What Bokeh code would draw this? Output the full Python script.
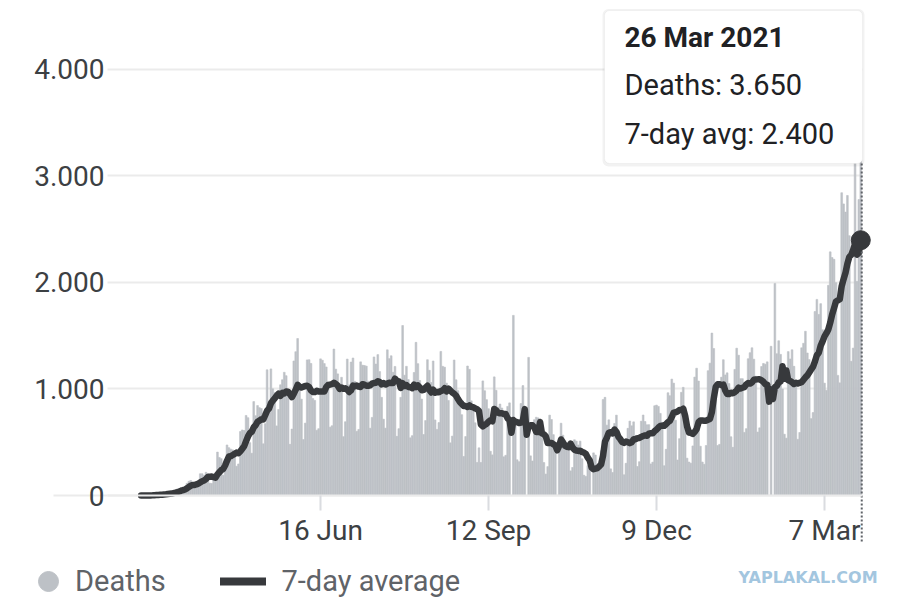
from datetime import date, timedelta
import numpy as np
import pandas as pd
from bokeh.plotting import figure
from bokeh.models import (ColumnDataSource, Range1d, FixedTicker, Legend, LegendItem,
                          Label, BoxAnnotation)
from bokeh.embed import file_html
from bokeh.resources import INLINE

# ---------------- data ----------------
start_date = date(2020, 3, 14)   # first day (Saturday)
# daily deaths, one week (Sat..Fri) per row
deaths = [
    0, 0, 0, 1, 3, 3, 4,
    7, 7, 9, 12, 11, 20, 15,
    22, 22, 23, 42, 40, 58, 60,
    73, 54, 67, 114, 133, 141, 115,
    68, 99, 105, 204, 204, 188, 217,
    206, 115, 113, 166, 165, 407, 357,
    346, 189, 338, 474, 449, 435, 428,
    421, 275, 296, 600, 615, 610, 751,
    730, 496, 396, 881, 749, 844, 824,
    816, 485, 674, 1179, 888, 1188, 1001,
    965, 653, 807, 1039, 1086, 1156, 1124,
    956, 480, 623, 1262, 1349, 1473, 1005,
    904, 525, 679, 1272, 1274, 1239, 909,
    892, 612, 627, 1282, 1269, 1238, 1206,
    1022, 641, 654, 1374, 1185, 1141, 990,
    1109, 552, 692, 1280, 1038, 1252, 1290,
    1071, 602, 620, 1254, 1223, 1220, 1214,
    1071, 631, 733, 1300, 1233, 1322, 1163,
    921, 716, 632, 1367, 1284, 1311, 1156,
    1211, 555, 627, 921, 1595, 1129, 1212,
    1088, 541, 561, 1154, 1437, 1237, 1079,
    905, 572, 703, 1274, 1175, 1060, 1262,
    709, 620, 684, 1352, 1212, 1204, 1054,
    892, 494, 557, 1271, 1085, 984, 855,
    758, 366, 553, 1215, 1184, 888, 833,
    682, 310, 447, 310, 1075, 983, 899,
    814, 415, 381, 1113, 987, 829, 858,
    821, 363, 377, 836, 869, 0, 1690,
    708, 335, 317, 863, 1031, 729, 0,
    1296, 372, 324, 711, 734, 728, 663,
    543, 309, 201, 271, 754, 713, 571,
    461, 0, 504, 678, 566, 497, 496,
    432, 231, 263, 523, 510, 474, 510,
    344, 190, 179, 280, 333, 0, 400,
    380, 230, 290, 420, 900, 921, 660,
    710, 250, 216, 676, 754, 598, 500,
    518, 194, 302, 630, 698, 654, 691,
    521, 272, 317, 697, 755, 694, 663,
    665, 296, 313, 842, 848, 836, 770,
    686, 279, 433, 964, 936, 1092, 1054,
    706, 333, 533, 968, 1015, 626, 350,
    314, 303, 465, 1111, 1194, 1074, 462,
    314, 293, 469, 1171, 1242, 1524, 1379,
    1050, 469, 480, 1110, 1274, 1131, 1151,
    1050, 551, 452, 1183, 1382, 1316, 1096,
    1096, 592, 627, 1283, 1340, 1386, 1279,
    1119, 595, 635, 1210, 1239, 1232, 1254,
    0, 1400, 0, 1990, 1330, 1452, 1324,
    1000, 575, 538, 1350, 1281, 1367, 1212,
    1077, 527, 591, 1386, 1428, 1541, 1337,
    1275, 721, 778, 1726, 1840, 1699, 1800,
    1555, 1054, 987, 1972, 2286, 2233, 2216,
    1997, 1127, 1057, 2841, 2736, 2659, 2815,
    2438, 1259, 1383, 3251, 2009, 2777, 3650,
]

tick_dates = [date(2020, 6, 16), date(2020, 9, 12), date(2020, 12, 9), date(2021, 3, 7)]
tick_labels = ["16 Jun", "12 Sep", "9 Dec", "7 Mar"]
y_ticks = [0, 1000, 2000, 3000, 4000]
y_tick_labels = ["0", "1.000", "2.000", "3.000", "4.000"]
series_names = ["Deaths", "7-day average"]

# ---------------- derived ----------------
n = len(deaths)
idx = np.arange(n)
dates = [start_date + timedelta(days=int(i)) for i in idx]
avg = pd.Series(deaths, dtype=float).rolling(7, min_periods=1).mean().to_numpy()
src = ColumnDataSource(dict(idx=idx, deaths=deaths, avg=avg))
tick_idx = [(d - start_date).days for d in tick_dates]
last = n - 1

# ---------------- layout geometry (page pixels) ----------------
W, H = 884, 600
PLOT_L, PLOT_R, ZERO_Y = 107, 862, 495      # plotting area: left/right edge, baseline
X_LEFT = -17.6                               # day index at the left edge of the plotting area
X_RIGHT = n - 0.1                            # day index at the right edge
PXD = (PLOT_R - PLOT_L) / (X_RIGHT - X_LEFT) # px per day
PXV = 426.3 / 4000                           # px per death

def xd(px):
    return X_LEFT + (px - PLOT_L) / PXD

def yd(py):
    return (ZERO_Y - py) / PXV

BAR = "#bdc1c6"
LINE = "#37393c"
TXT = "#3c4043"
GRID = "#ebebeb"
FONT = "Roboto"

p = figure(width=W, height=H, x_range=Range1d(xd(0), xd(W)), y_range=Range1d(yd(H), yd(0)),
           output_backend="svg", toolbar_location=None,
           min_border_left=0, min_border_right=0, min_border_top=0, min_border_bottom=0)
p.outline_line_color = None
p.background_fill_color = "white"
p.border_fill_color = "white"

p.xgrid.visible = False
if "cross_bounds" in p.ygrid.properties():
    p.ygrid.grid_line_color = GRID
    p.ygrid.grid_line_width = 2
    p.ygrid.cross_bounds = (X_LEFT, X_RIGHT)
else:
    p.ygrid.visible = False
    p.segment(x0=[X_LEFT] * len(y_ticks), y0=y_ticks, x1=[X_RIGHT] * len(y_ticks), y1=y_ticks,
              line_color=GRID, line_width=2)
# the baseline grid line reaches further left, up to its short "0" label
p.segment(x0=[xd(53)], y0=[y_ticks[0]], x1=[X_LEFT], y1=[y_ticks[0]], line_color=GRID, line_width=2)

p.vbar(x="idx", top="deaths", width=0.9, source=src, fill_color=BAR,
       line_color=BAR, line_width=0.6)
p.line(x="idx", y="avg", source=src, line_width=6.5, line_color=LINE, line_join="round", line_cap="round")

# y axis (fixed at the left edge of the plotting area)
p.yaxis.fixed_location = X_LEFT
p.yaxis.ticker = FixedTicker(ticks=y_ticks)
p.yaxis.major_label_overrides = dict(zip(y_ticks, y_tick_labels))
p.yaxis.axis_line_color = None
p.yaxis.major_tick_line_color = None
p.yaxis.major_tick_out = 0
p.yaxis.major_tick_in = 0
p.yaxis.minor_tick_line_color = None
p.yaxis.major_label_text_font = FONT
p.yaxis.major_label_text_font_size = "28px"
p.yaxis.major_label_text_color = TXT
p.yaxis.major_label_standoff = 3

# x axis (fixed at zero)
p.xaxis.fixed_location = 0
p.xaxis.bounds = (X_LEFT, X_RIGHT)
p.xaxis.ticker = FixedTicker(ticks=tick_idx)
p.xaxis.major_label_overrides = dict(zip(tick_idx, tick_labels))
p.xaxis.axis_line_color = GRID
p.xaxis.axis_line_width = 2
p.xaxis.major_tick_line_color = "#dadce0"
p.xaxis.major_tick_line_width = 2
p.xaxis.major_tick_out = 15
p.xaxis.major_tick_in = 0
p.xaxis.minor_tick_line_color = None
p.xaxis.major_label_text_font = FONT
p.xaxis.major_label_text_font_size = "28px"
p.xaxis.major_label_text_color = TXT
p.xaxis.major_label_standoff = 3

# hover-like marker at last point
p.segment(x0=[last + 0.5], y0=[yd(163)], x1=[last + 0.5], y1=[yd(542)],
          line_color="#5f6368", line_width=2, line_dash="2 2")
p.scatter(x=[idx[last]], y=[avg[last]], size=19, fill_color=LINE, line_color=LINE)

# tooltip box
p.add_layout(BoxAnnotation(left=xd(602), right=xd(864), bottom=yd(166), top=yd(8.5),
                           fill_color="black", fill_alpha=0.05, line_color=None, border_radius=6))
p.add_layout(BoxAnnotation(left=xd(604), right=xd(862), bottom=yd(163), top=yd(10),
                           fill_color="white", fill_alpha=1.0, line_color="#dcdcdc", line_width=1,
                           border_radius=5))
d_last = dates[last]
date_txt = f"{d_last.day} {d_last.strftime('%b %Y')}"
deaths_txt = "Deaths: " + f"{deaths[last]:,}".replace(",", ".")
avg_txt = "7-day avg: " + f"{round(avg[last], -2):,.0f}".replace(",", ".")
p.add_layout(Label(x=xd(624), y=yd(37), text=date_txt, text_font=FONT, text_font_style="bold",
                   text_font_size="28px", text_color="#202124", text_baseline="middle"))
p.add_layout(Label(x=xd(624), y=yd(84), text=deaths_txt, text_font=FONT,
                   text_font_size="29px", text_color="#202124", text_baseline="middle"))
p.add_layout(Label(x=xd(624), y=yd(133), text=avg_txt, text_font=FONT,
                   text_font_size="29px", text_color="#202124", text_baseline="middle"))

# legends (renderers with no visible point)
nan = float("nan")
r_dot = p.scatter(x=[nan], y=[nan], size=20, fill_color=BAR, line_color=BAR)
r_ln = p.line(x=[nan, nan], y=[nan, nan], line_width=8, line_color=LINE, line_cap="round")
leg_bottom = H - 606
common = dict(orientation="horizontal", padding=0, margin=0, border_line_color=None,
              background_fill_alpha=0, label_text_font=FONT, label_text_font_size="29px",
              label_text_color="#5f6368", glyph_height=50, label_height=50)
leg1 = Legend(items=[LegendItem(label=series_names[0], renderers=[r_dot])],
              location=(23, leg_bottom), glyph_width=50, label_standoff=2, **common)
leg2 = Legend(items=[LegendItem(label=series_names[1], renderers=[r_ln])],
              location=(219.5, leg_bottom), glyph_width=46, label_standoff=16, **common)
p.add_layout(leg1, "center")
p.add_layout(leg2, "center")

# watermark
p.add_layout(Label(x=xd(738), y=yd(577), text="YAPLAKAL.COM", text_font="DejaVu Sans",
                   text_font_style="bold", text_font_size="16px", text_color="#a3c6df",
                   text_baseline="middle"))

open("out.html", "w").write(file_html(p, INLINE))
